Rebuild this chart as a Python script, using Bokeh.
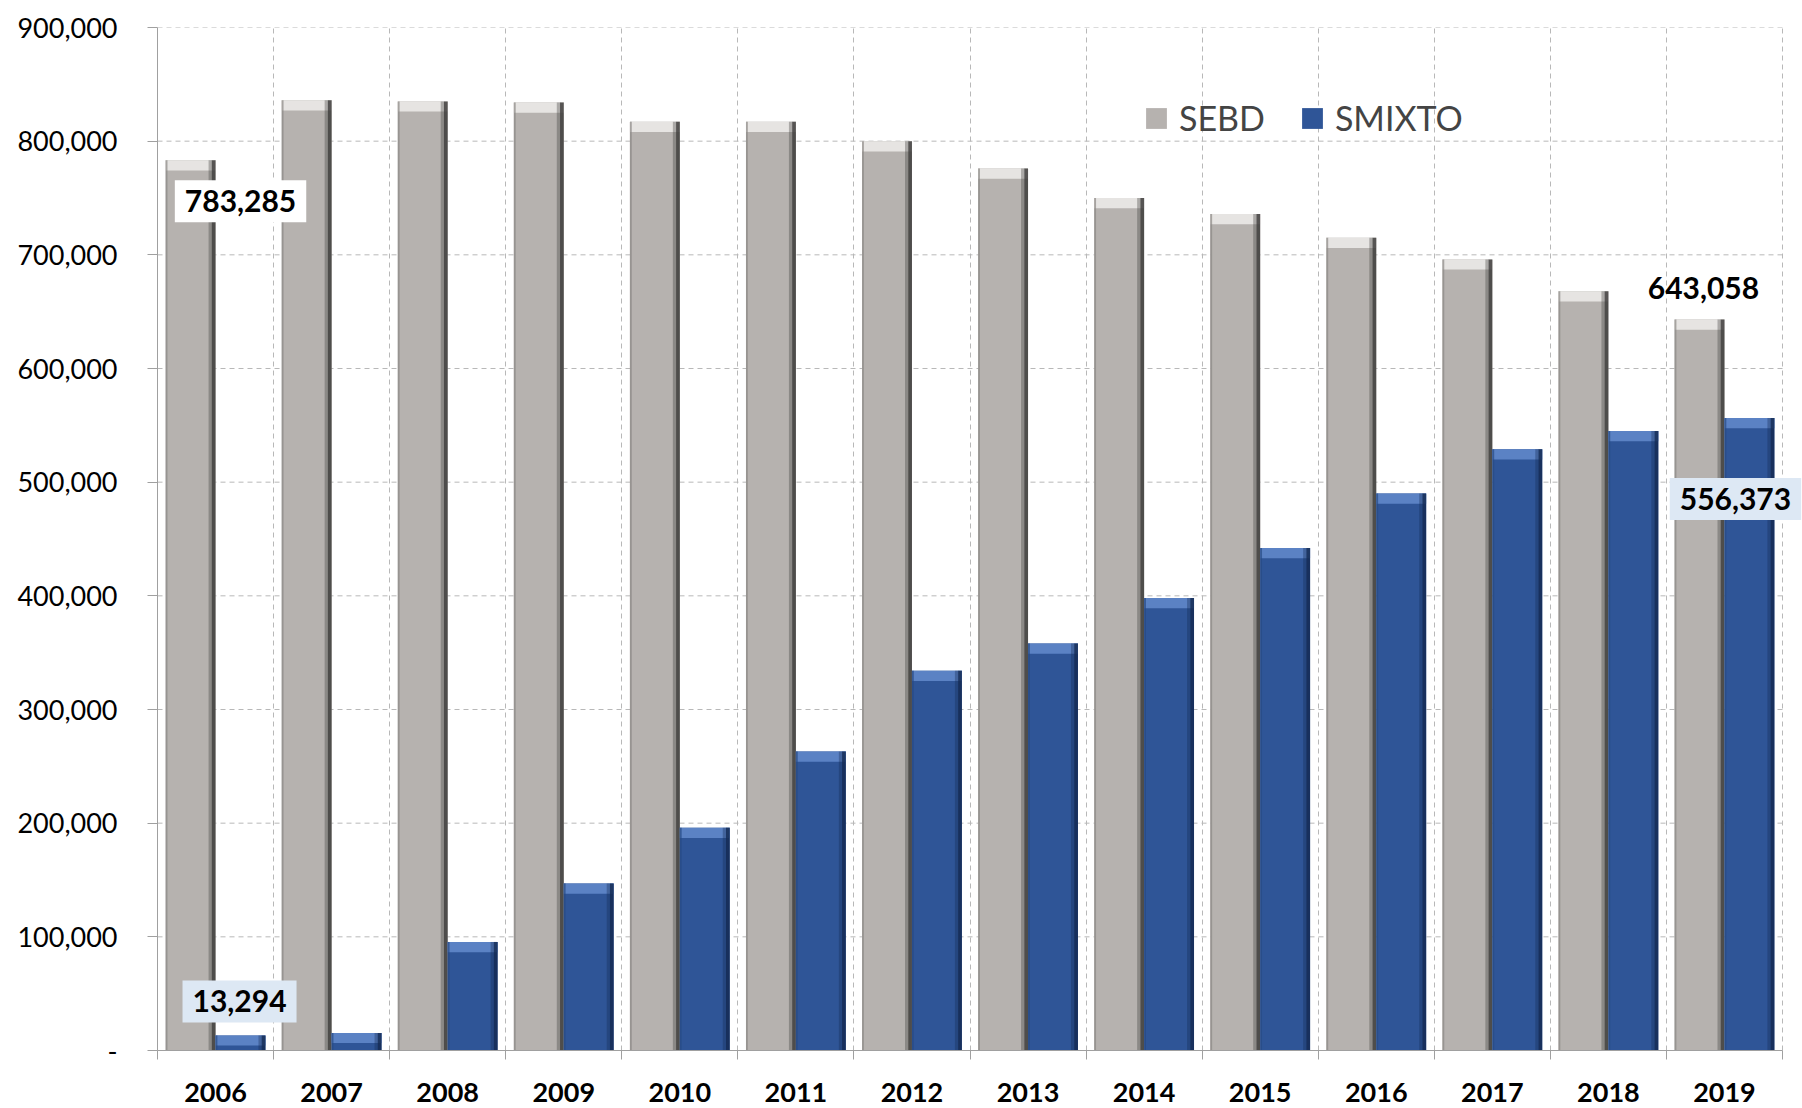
from bokeh.plotting import figure
from bokeh.models import (FixedTicker, Label, Legend, LegendItem, NumeralTickFormatter,
                          Range1d, ColumnDataSource)
from bokeh.embed import file_html
from bokeh.resources import INLINE
import numpy as np

years = ["2006", "2007", "2008", "2009", "2010", "2011", "2012",
         "2013", "2014", "2015", "2016", "2017", "2018", "2019"]
sebd = [783285, 836000, 835000, 834000, 817000, 817000, 800000,
        776000, 750000, 736000, 715000, 696000, 668000, 643058]
smixto = [13294, 15500, 95500, 147000, 196000, 263000, 334000,
          358000, 398000, 442000, 490000, 529000, 545000, 556373]
y_ticks = [0, 100000, 200000, 300000, 400000, 500000, 600000, 700000, 800000, 900000]

FONT = "Lato"
n = len(years)
centers = np.arange(n) + 0.5
W = 0.43
x_sebd = centers - W / 2
x_smix = centers + W / 2
CAT_PX = 1625 / n
EXTRA = 20  # px of room right of the last category for the label box

p = figure(frame_width=1625 + EXTRA, frame_height=1023,
           x_range=Range1d(0, n + EXTRA / CAT_PX), y_range=Range1d(0, 900000),
           output_backend="svg", toolbar_location=None, min_border_left=157,
           min_border_top=27, min_border_right=0, min_border_bottom=58)
p.outline_line_color = None
p.background_fill_color = "white"
p.border_fill_color = "white"

# grids
p.xgrid.ticker = FixedTicker(ticks=list(range(n + 1)))
p.xgrid.grid_line_color = "#b8b8b8"
p.xgrid.grid_line_dash = "5 4"
p.ygrid.visible = False
p.segment(x0=[0] * len(y_ticks), x1=[n] * len(y_ticks), y0=y_ticks, y1=y_ticks,
          line_color="#b8b8b8", line_dash="5 4", line_width=1)

# axes
p.xaxis.bounds = (0, n)
p.xaxis.ticker = FixedTicker(ticks=list(centers), minor_ticks=list(range(n + 1)))
p.xaxis.major_label_overrides = {float(c): y for c, y in zip(centers, years)}
p.xaxis.major_tick_out = 0
p.xaxis.major_tick_in = 0
p.xaxis.minor_tick_out = 9
p.xaxis.minor_tick_in = 0
p.xaxis.minor_tick_line_color = "#a0a0a0"
p.xaxis.axis_line_color = "#a0a0a0"
p.xaxis.major_label_text_font = FONT
p.xaxis.major_label_text_font_style = "bold"
p.xaxis.major_label_text_font_size = "27px"
p.xaxis.major_label_text_color = "black"
p.xaxis.major_label_standoff = 23

p.yaxis.ticker = FixedTicker(ticks=y_ticks)
p.yaxis.formatter = NumeralTickFormatter(format="0,0")
p.yaxis.major_label_overrides = {0: "-"}
p.yaxis.major_tick_out = 10
p.yaxis.major_tick_in = 0
p.yaxis.minor_tick_line_color = None
p.yaxis.major_tick_line_color = "#a0a0a0"
p.yaxis.axis_line_color = "#a0a0a0"
p.yaxis.major_label_text_font = FONT
p.yaxis.major_label_text_font_size = "27px"
p.yaxis.major_label_text_color = "black"
p.yaxis.major_label_standoff = 30


def bevel_bars(xs, vals, face, edge_l, dark, cap):
    vals = np.array(vals, dtype=float)
    src = ColumnDataSource(dict(x=xs, top=vals, capb=np.maximum(vals - 9000, 0)))
    main = p.vbar(x="x", width=W, top="top", bottom=0, source=src,
                  fill_color=face, line_color=None)
    p.vbar(x="x", width=W, top="top", bottom="capb", source=src,
           fill_color=cap, line_color=None)
    p.vbar(x=xs - W / 2 + 0.008, width=0.016, top=vals, bottom=0,
           fill_color=edge_l, fill_alpha=0.7, line_color=None)
    p.vbar(x=xs + W / 2 - 0.045, width=0.03, top=vals, bottom=0,
           fill_color=dark, fill_alpha=0.35, line_color=None)
    p.vbar(x=xs + W / 2 - 0.016, width=0.032, top=vals, bottom=0,
           fill_color=dark, fill_alpha=0.85, line_color=None)
    return main


r1 = bevel_bars(x_sebd, sebd, "#b6b2af", "#8a8785", "#3c3b3a", "#e6e4e2")
r2 = bevel_bars(x_smix, smixto, "#2f5597", "#274a85", "#142a52", "#5b82c4")

legend = Legend(items=[LegendItem(label="SEBD", renderers=[r1]),
                       LegendItem(label="SMIXTO", renderers=[r2])],
                location=(986, 912), orientation="horizontal",
                glyph_width=26, glyph_height=26, label_text_font=FONT,
                label_text_font_size="34px", label_standoff=10, spacing=34,
                padding=0, margin=0, border_line_color=None,
                background_fill_alpha=0)
p.add_layout(legend, "center")

label_style = dict(text_font=FONT, text_font_style="bold", text_font_size="30px",
                   text_color="black", text_align="center", text_baseline="middle")

p.add_layout(Label(x=centers[0], y=sebd[0], x_offset=25, y_offset=-41,
                   text=f"{sebd[0]:,}", background_fill_color="white", padding=10,
                   **label_style))
p.add_layout(Label(x=centers[0], y=smixto[0], x_offset=24, y_offset=34,
                   text=f"{smixto[0]:,}", background_fill_color="#dde8f4", padding=10,
                   **label_style))
p.add_layout(Label(x=centers[-1], y=sebd[-1], x_offset=-21, y_offset=32,
                   text=f"{sebd[-1]:,}", **label_style))
p.add_layout(Label(x=centers[-1], y=smixto[-1], x_offset=11, y_offset=-81,
                   text=f"{smixto[-1]:,}", background_fill_color="#dde8f4", padding=10,
                   **label_style))

open("out.html", "w").write(file_html(p, INLINE))
